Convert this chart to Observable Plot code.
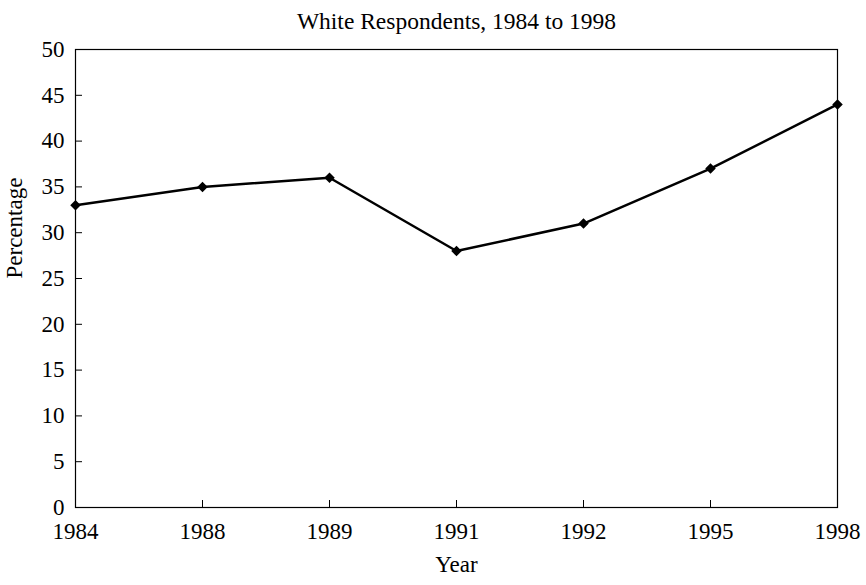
<!DOCTYPE html>
<html>
<head>
<meta charset="utf-8">
<script src="https://cdn.jsdelivr.net/npm/d3@7"></script>
<script src="https://cdn.jsdelivr.net/npm/@observablehq/plot@0.6"></script>
<style>
  html, body { margin: 0; padding: 0; background: #fff; }
  #chart svg { display: block; }
</style>
</head>
<body>
<div id="chart"></div>
<script>
const years = ["1984", "1988", "1989", "1991", "1992", "1995", "1998"];
const percentages = [33, 35, 36, 28, 31, 37, 44];
const yTicks = [0, 5, 10, 15, 20, 25, 30, 35, 40, 45, 50];
const titleText = "White Respondents, 1984 to 1998";

const data = years.map((y, i) => ({year: y, pct: percentages[i]}));
const font = "'Liberation Serif', 'DejaVu Serif', serif";

const chart = Plot.plot({
  width: 866,
  height: 585,
  marginLeft: 75,
  marginRight: 29,
  marginTop: 49,
  marginBottom: 78,
  style: {fontFamily: font, fontSize: "23px", color: "#000", background: "#fff", overflow: "visible"},
  x: {type: "point", domain: years, padding: 0, label: null},
  y: {domain: [0, 50], label: null},
  marks: [
    Plot.frame({stroke: "#000", strokeWidth: 1.2}),
    Plot.axisY(yTicks, {tickSize: -7, tickFormat: () => "", label: null}),
    Plot.axisY(yTicks, {tickSize: 0, tickPadding: 11, fontSize: 23, dy: 0, label: null}),
    Plot.axisX(years, {tickSize: -7, tickPadding: 22, fontSize: 23, label: null}),
    Plot.line(data, {x: "year", y: "pct", stroke: "#000", strokeWidth: 2.5}),
    Plot.dot(data, {x: "year", y: "pct", symbol: "square", rotate: 45, r: 4.2, fill: "#000", stroke: "none"}),
    Plot.text([titleText], {frameAnchor: "top", dy: -37, fontSize: 23.5, text: d => d}),
    Plot.text(["Year"], {frameAnchor: "bottom", dy: 64, fontSize: 23, text: d => d}),
    Plot.text(["Percentage"], {frameAnchor: "left", dx: -61, rotate: -90, fontSize: 23, text: d => d})
  ]
});
document.getElementById("chart").append(chart);
</script>
</body>
</html>
